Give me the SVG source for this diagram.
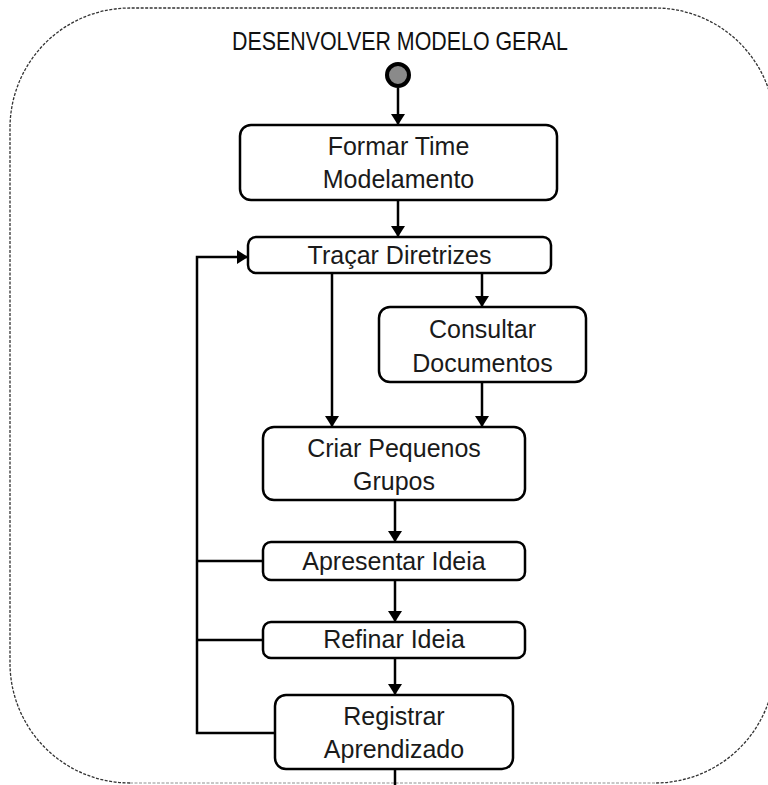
<svg xmlns="http://www.w3.org/2000/svg" width="768" height="785" viewBox="0 0 768 785">
  <style>
    .node rect { fill: #ffffff; stroke: #000000; stroke-width: 2.5; }
    .label { font-family: "Liberation Sans", Arial, sans-serif; font-size: 25px; fill: #1a1a1a; text-anchor: middle; }
    .title { font-family: "Liberation Sans", Arial, sans-serif; font-size: 26px; fill: #111111; text-anchor: middle; }
    .edge { fill: none; stroke: #000000; stroke-width: 2.5; }
    .frame { fill: none; stroke: #333333; stroke-width: 1.3; stroke-dasharray: 3 1.5; }
    .frame-bottom { fill: none; stroke: #b5b5b5; stroke-width: 1.3; stroke-dasharray: 3 1.5; }
  </style>
  <defs>
    <marker id="arrow" markerUnits="userSpaceOnUse" markerWidth="11" markerHeight="14" viewBox="0 0 11 14" refX="11" refY="7" orient="auto">
      <path d="M0,0 L11,7 L0,14 z" fill="#000000"/>
    </marker>
  </defs>

  <rect width="768" height="785" fill="#ffffff"/>

  <!-- activity frame: dashed rounded boundary -->
  <g id="frame">
    <path class="frame" d="M130,783 A120,120 0 0 1 10,663 V128 A120,120 0 0 1 130,8 H655 A120,120 0 0 1 775,128 V663 A120,120 0 0 1 655,783"/>
    <line class="frame-bottom" x1="130" y1="783" x2="655" y2="783"/>
    <text class="title" x="400" y="50" textLength="336" lengthAdjust="spacingAndGlyphs">DESENVOLVER MODELO GERAL</text>
  </g>

  <!-- connectors -->
  <g id="connectors">
    <line class="edge" x1="398" y1="88" x2="398" y2="125" marker-end="url(#arrow)"/>
    <line class="edge" x1="398" y1="200" x2="398" y2="237" marker-end="url(#arrow)"/>
    <line class="edge" x1="332" y1="273" x2="332" y2="427" marker-end="url(#arrow)"/>
    <line class="edge" x1="482" y1="273" x2="482" y2="307" marker-end="url(#arrow)"/>
    <line class="edge" x1="482" y1="382" x2="482" y2="427" marker-end="url(#arrow)"/>
    <line class="edge" x1="395" y1="500" x2="395" y2="542" marker-end="url(#arrow)"/>
    <line class="edge" x1="395" y1="580" x2="395" y2="622" marker-end="url(#arrow)"/>
    <line class="edge" x1="395" y1="658" x2="395" y2="695" marker-end="url(#arrow)"/>
    <line class="edge" x1="395" y1="769" x2="395" y2="786"/>
    <!-- feedback loop back to Traçar Diretrizes -->
    <path class="edge" d="M263,561 H197"/>
    <path class="edge" d="M263,640 H197"/>
    <path class="edge" d="M275,733 H197 V257 H248" marker-end="url(#arrow)"/>
  </g>

  <g id="start">
    <circle cx="398" cy="75" r="11" fill="#8a8a8a" stroke="#000000" stroke-width="4"/>
  </g>

  <g id="formar-time" class="node">
    <rect x="240" y="125" width="317" height="75" rx="11"/>
    <text class="label" x="398.5" y="155">Formar Time</text>
    <text class="label" x="398.5" y="188">Modelamento</text>
  </g>

  <g id="tracar-diretrizes" class="node">
    <rect x="248" y="237" width="303" height="36" rx="8"/>
    <text class="label" x="399.5" y="264">Traçar Diretrizes</text>
  </g>

  <g id="consultar-documentos" class="node">
    <rect x="379" y="307" width="207" height="75" rx="11"/>
    <text class="label" x="482.5" y="338">Consultar</text>
    <text class="label" x="482.5" y="372">Documentos</text>
  </g>

  <g id="criar-grupos" class="node">
    <rect x="263" y="427" width="262" height="73" rx="11"/>
    <text class="label" x="394" y="457">Criar Pequenos</text>
    <text class="label" x="394" y="490">Grupos</text>
  </g>

  <g id="apresentar-ideia" class="node">
    <rect x="263" y="542" width="262" height="38" rx="8"/>
    <text class="label" x="394" y="570">Apresentar Ideia</text>
  </g>

  <g id="refinar-ideia" class="node">
    <rect x="263" y="622" width="262" height="36" rx="8"/>
    <text class="label" x="394" y="648">Refinar Ideia</text>
  </g>

  <g id="registrar-aprendizado" class="node">
    <rect x="275" y="695" width="238" height="74" rx="11"/>
    <text class="label" x="394" y="725">Registrar</text>
    <text class="label" x="394" y="758">Aprendizado</text>
  </g>
</svg>
